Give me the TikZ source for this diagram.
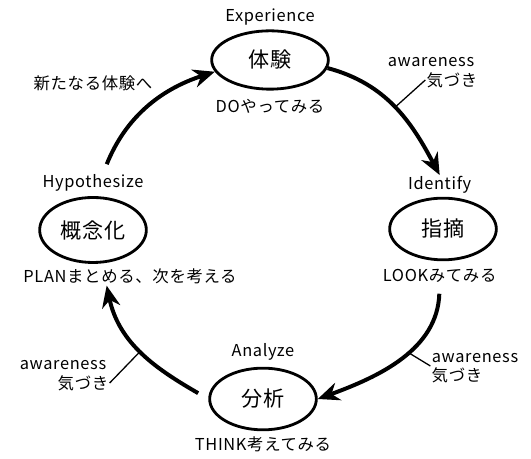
\documentclass[tikz,border=0pt]{standalone}
\usepackage{fontspec}
\setmainfont{Noto Sans CJK JP}[LetterSpace=4]
\usetikzlibrary{shapes.geometric,arrows.meta}

\tikzstyle{stage} = [ellipse, draw=black, line width=2.4pt, minimum width=3.2cm, minimum height=1.85cm, font=\fontsize{18}{21}\selectfont]
\tikzstyle{label} = [font=\fontsize{14}{17}\selectfont, inner sep=1pt]
\tikzstyle{arrow} = [line width=3.4pt, -{Stealth[length=6.5mm,width=5.5mm]}]
\tikzstyle{tick} = [line width=1.1pt]

\begin{document}
\begin{tikzpicture}[x=0.03cm, y=0.03cm, node distance=1.4cm]
  \useasboundingbox (0,0) rectangle (531,459);

  \node (exp) [stage, minimum width=3.5cm, minimum height=1.75cm] at (270,399) {体験};
  \node (ide) [stage] at (443,230) {指摘};
  \node (ana) [stage] at (263,60) {分析};
  \node (hyp) [stage, minimum height=1.95cm] at (93,229) {概念化};

  \node (expl) [label, above of=exp, yshift=-0.1cm] {Experience};
  \node (dol) [label, below of=exp, yshift=0.02cm] {DOやってみる};
  \node (idel) [label, above of=ide, xshift=-0.1cm, yshift=-0.08cm] {Identify};
  \node (lookl) [label, below of=ide, xshift=-0.1cm] {LOOKみてみる};
  \node (anal) [label, above of=ana] {Analyze};
  \node (thinkl) [label, below of=ana, yshift=0.05cm] {THINK考えてみる};
  \node (hypl) [label, above of=hyp] {Hypothesize};
  \node (planl) [label, below of=hyp, xshift=1.11cm] {PLANまとめる、次を考える};

  \node (aw1) [label] at (431,397) {awareness};
  \node (kz1) [label] at (452,379) {気づき};
  \node (aw2) [label] at (475,101) {awareness};
  \node (kz2) [label] at (457,84) {気づき};
  \node (aw3) [label] at (63,94) {awareness};
  \node (kz3) [label] at (83,76) {気づき};
  \node (new) [label] at (93,376) {新たなる体験へ};

  \draw [arrow] (exp.-8) to [out=-15, in=118] coordinate [pos=0.5] (t1) (idel.north);
  \draw [arrow, shorten <=0.3cm] (lookl.south) to [out=-92, in=20] coordinate [pos=0.45] (t2) (ana.east);
  \draw [arrow, shorten <=0.35cm] (ana.west) to [out=150, in=-78] coordinate [pos=0.52] (t3) ([xshift=-0.7cm]planl.south);
  \draw [arrow, shorten <=0.3cm] ([xshift=0.3cm]hypl.north) to [out=68, in=-162] (exp.192);

  \draw [tick] (t1) -- (kz1.west);
  \draw [tick] (t2) -- (kz2.north west);
  \draw [tick] (t3) -- (kz3.east);
\end{tikzpicture}
\end{document}
